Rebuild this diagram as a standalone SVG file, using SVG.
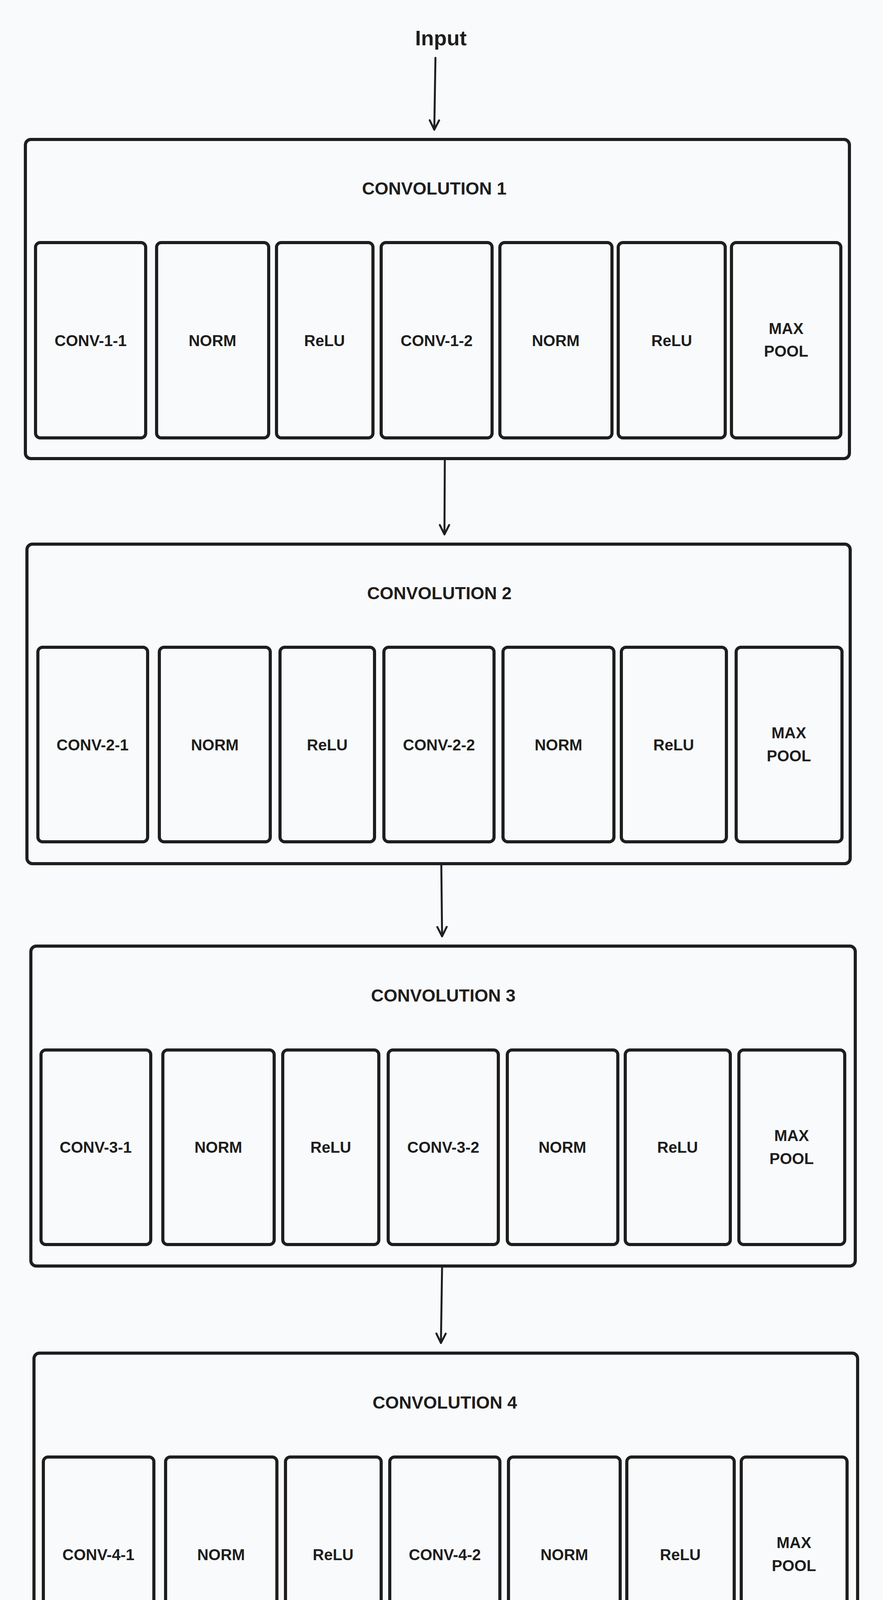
<svg xmlns="http://www.w3.org/2000/svg" width="2261" height="7621" viewBox="0 0 2261 7621">
<defs>
<style>
.bg{fill:#f9fafb}
.outer{fill:none;stroke:#1e1e1e;stroke-width:8;stroke-linejoin:round}
.inner{fill:none;stroke:#1e1e1e;stroke-width:8;stroke-linejoin:round}
.edge{fill:none;stroke:#1e1e1e;stroke-width:5;stroke-linecap:round}
.t{font-family:"Liberation Sans",Arial,sans-serif;font-weight:bold;fill:#1e1e1e;text-anchor:middle}
.title{font-size:45px}
.lbl{font-size:40px}
.fc{font-size:45px}
.io{font-size:50px}
</style>
<marker id="arr" markerUnits="userSpaceOnUse" viewBox="-30 -16 34 32" markerWidth="34" markerHeight="32" refX="0" refY="0" orient="auto" overflow="visible">
<path d="M-24,-12 L0,0 L-24,12" fill="none" stroke="#1e1e1e" stroke-width="5" stroke-linecap="round" stroke-linejoin="round"/>
</marker>
</defs>
<rect class="bg" x="0" y="0" width="2261" height="7621"/>

<g id="connectors">
<line class="edge" x1="1115" y1="148" x2="1112" y2="332" marker-end="url(#arr)"/>
<line class="edge" x1="1139" y1="1178" x2="1138" y2="1368" marker-end="url(#arr)"/>
<line class="edge" x1="1130" y1="2213" x2="1132" y2="2397" marker-end="url(#arr)"/>
<line class="edge" x1="1132" y1="3243" x2="1129" y2="3438" marker-end="url(#arr)"/>
<line class="edge" x1="1136" y1="4286" x2="1135" y2="4447" marker-end="url(#arr)"/>
<line class="edge" x1="1138" y1="4666" x2="1137" y2="4792" marker-end="url(#arr)"/>
<line class="edge" x1="1119" y1="5563" x2="1118" y2="5664" marker-end="url(#arr)"/>
<line class="edge" x1="1115" y1="6433" x2="1116" y2="6559" marker-end="url(#arr)"/>
<line class="edge" x1="1118" y1="7330" x2="1118" y2="7483" marker-end="url(#arr)"/>
</g>

<g id="input"><text class="t" style="font-size:54px" x="1129" y="116">Input</text></g>

<g id="conv1">
<rect class="outer" x="65" y="357" width="2110" height="817" rx="14"/>
<text class="t title" x="1112" y="498">CONVOLUTION 1</text>
<g id="conv1-1"><rect class="inner" x="91" y="621" width="282" height="500" rx="12"/><text class="t lbl" x="232" y="886">CONV-1-1</text></g>
<g id="conv1-norm1"><rect class="inner" x="401" y="621" width="287" height="500" rx="12"/><text class="t lbl" x="544" y="886">NORM</text></g>
<g id="conv1-relu1"><rect class="inner" x="708" y="621" width="247" height="500" rx="12"/><text class="t lbl" x="831" y="886">ReLU</text></g>
<g id="conv1-2"><rect class="inner" x="976" y="621" width="284" height="500" rx="12"/><text class="t lbl" x="1118" y="886">CONV-1-2</text></g>
<g id="conv1-norm2"><rect class="inner" x="1280" y="621" width="287" height="500" rx="12"/><text class="t lbl" x="1423" y="886">NORM</text></g>
<g id="conv1-relu2"><rect class="inner" x="1583" y="621" width="274" height="500" rx="12"/><text class="t lbl" x="1720" y="886">ReLU</text></g>
<g id="conv1-pool"><rect class="inner" x="1873" y="621" width="280" height="500" rx="12"/><text class="t lbl" x="2013" y="855">MAX</text><text class="t lbl" x="2013" y="913">POOL</text></g>
</g>

<g id="conv2">
<rect class="outer" x="69" y="1393" width="2108" height="818" rx="14"/>
<text class="t title" x="1125" y="1534">CONVOLUTION 2</text>
<g id="conv2-1"><rect class="inner" x="97" y="1657" width="281" height="498" rx="12"/><text class="t lbl" x="237" y="1921">CONV-2-1</text></g>
<g id="conv2-norm1"><rect class="inner" x="408" y="1657" width="284" height="498" rx="12"/><text class="t lbl" x="550" y="1921">NORM</text></g>
<g id="conv2-relu1"><rect class="inner" x="717" y="1657" width="242" height="498" rx="12"/><text class="t lbl" x="838" y="1921">ReLU</text></g>
<g id="conv2-2"><rect class="inner" x="983" y="1657" width="282" height="498" rx="12"/><text class="t lbl" x="1124" y="1921">CONV-2-2</text></g>
<g id="conv2-norm2"><rect class="inner" x="1288" y="1657" width="284" height="498" rx="12"/><text class="t lbl" x="1430" y="1921">NORM</text></g>
<g id="conv2-relu2"><rect class="inner" x="1591" y="1657" width="269" height="498" rx="12"/><text class="t lbl" x="1725" y="1921">ReLU</text></g>
<g id="conv2-pool"><rect class="inner" x="1885" y="1657" width="271" height="498" rx="12"/><text class="t lbl" x="2020" y="1890">MAX</text><text class="t lbl" x="2020" y="1949">POOL</text></g>
</g>

<g id="conv3">
<rect class="outer" x="79" y="2422" width="2111" height="819" rx="14"/>
<text class="t title" x="1135" y="2564">CONVOLUTION 3</text>
<g id="conv3-1"><rect class="inner" x="105" y="2688" width="281" height="498" rx="12"/><text class="t lbl" x="245" y="2951">CONV-3-1</text></g>
<g id="conv3-norm1"><rect class="inner" x="417" y="2688" width="285" height="498" rx="12"/><text class="t lbl" x="559" y="2951">NORM</text></g>
<g id="conv3-relu1"><rect class="inner" x="724" y="2688" width="246" height="498" rx="12"/><text class="t lbl" x="847" y="2951">ReLU</text></g>
<g id="conv3-2"><rect class="inner" x="994" y="2688" width="282" height="498" rx="12"/><text class="t lbl" x="1135" y="2951">CONV-3-2</text></g>
<g id="conv3-norm2"><rect class="inner" x="1299" y="2688" width="283" height="498" rx="12"/><text class="t lbl" x="1440" y="2951">NORM</text></g>
<g id="conv3-relu2"><rect class="inner" x="1601" y="2688" width="269" height="498" rx="12"/><text class="t lbl" x="1735" y="2951">ReLU</text></g>
<g id="conv3-pool"><rect class="inner" x="1892" y="2688" width="271" height="498" rx="12"/><text class="t lbl" x="2027" y="2921">MAX</text><text class="t lbl" x="2027" y="2980">POOL</text></g>
</g>

<g id="conv4">
<rect class="outer" x="87" y="3464" width="2109" height="820" rx="14"/>
<text class="t title" x="1139" y="3606">CONVOLUTION 4</text>
<g id="conv4-1"><rect class="inner" x="111" y="3730" width="283" height="499" rx="12"/><text class="t lbl" x="252" y="3994">CONV-4-1</text></g>
<g id="conv4-norm1"><rect class="inner" x="424" y="3730" width="285" height="499" rx="12"/><text class="t lbl" x="566" y="3994">NORM</text></g>
<g id="conv4-relu1"><rect class="inner" x="731" y="3730" width="245" height="499" rx="12"/><text class="t lbl" x="853" y="3994">ReLU</text></g>
<g id="conv4-2"><rect class="inner" x="998" y="3730" width="282" height="499" rx="12"/><text class="t lbl" x="1139" y="3994">CONV-4-2</text></g>
<g id="conv4-norm2"><rect class="inner" x="1302" y="3730" width="286" height="499" rx="12"/><text class="t lbl" x="1445" y="3994">NORM</text></g>
<g id="conv4-relu2"><rect class="inner" x="1605" y="3730" width="275" height="499" rx="12"/><text class="t lbl" x="1742" y="3994">ReLU</text></g>
<g id="conv4-pool"><rect class="inner" x="1898" y="3730" width="271" height="499" rx="12"/><text class="t lbl" x="2033" y="3963">MAX</text><text class="t lbl" x="2033" y="4022">POOL</text></g>
</g>

<g id="flatten">
<rect class="outer" x="812" y="4471" width="649" height="193" rx="12"/>
<text class="t" style="font-size:49px" x="1136" y="4585">Flatten</text>
</g>

<g id="fc1">
<rect class="outer" x="707" y="4821" width="834" height="740" rx="14"/>
<text class="t fc" x="1110" y="4928">FC-1</text>
<g id="fc1-linear"><rect class="inner" x="732" y="5024" width="249" height="494" rx="12"/><text class="t fc" x="856" y="5287">Linear</text></g>
<g id="fc1-relu"><rect class="inner" x="1001" y="5024" width="248" height="494" rx="12"/><text class="t fc" x="1124" y="5287">ReLU</text></g>
<g id="fc1-drop"><rect class="inner" x="1268" y="5024" width="249" height="494" rx="12"/><text class="t fc" x="1392" y="5287">Drop</text></g>
</g>

<g id="fc2">
<rect class="outer" x="702" y="5693" width="834" height="738" rx="14"/>
<text class="t fc" x="1109" y="5801">FC-2</text>
<g id="fc2-linear"><rect class="inner" x="725" y="5894" width="249" height="496" rx="12"/><text class="t fc" x="850" y="6157">Linear</text></g>
<g id="fc2-relu"><rect class="inner" x="994" y="5894" width="249" height="496" rx="12"/><text class="t fc" x="1118" y="6157">ReLU</text></g>
<g id="fc2-drop"><rect class="inner" x="1262" y="5894" width="249" height="496" rx="12"/><text class="t fc" x="1386" y="6157">Drop</text></g>
</g>

<g id="fc3">
<rect class="outer" x="828" y="6586" width="585" height="742" rx="14"/>
<text class="t fc" x="1114" y="6695">FC-3</text>
<g id="fc3-linear"><rect class="inner" x="857" y="6770" width="249" height="497" rx="12"/><text class="t fc" x="982" y="7034">Linear</text></g>
<g id="fc3-softmax"><rect class="inner" x="1125" y="6770" width="256" height="497" rx="12"/><text class="t fc" x="1254" y="7036">SoftMax</text></g>
</g>

<g id="output"><text class="t io" x="1119" y="7543">Output</text></g>
</svg>
